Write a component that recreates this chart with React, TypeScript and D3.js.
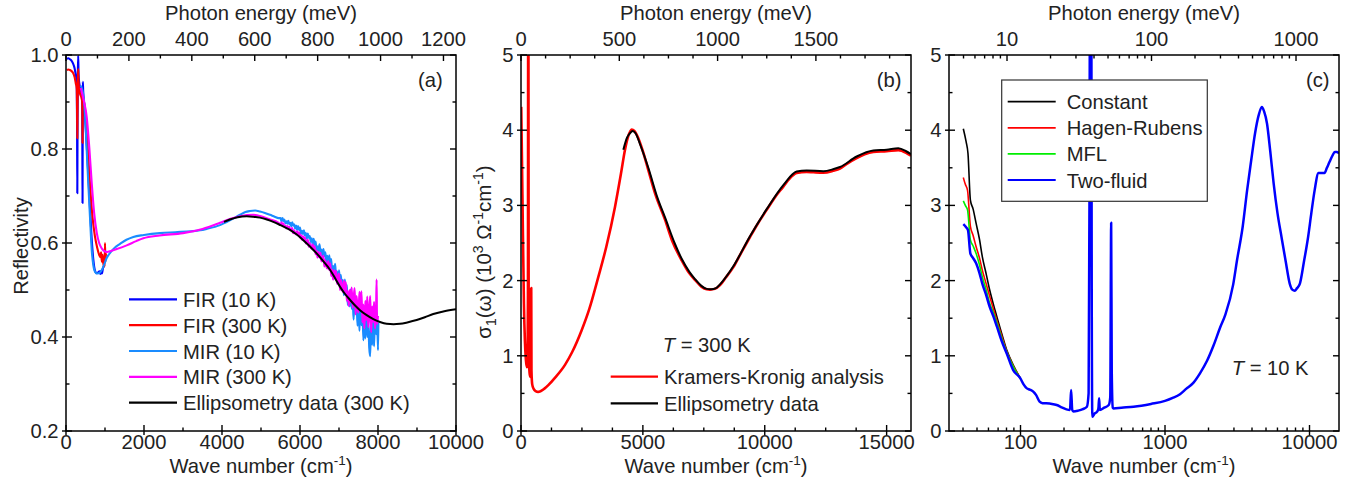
import React from "react";
import * as d3 from "d3";

type Pt = [number, number];

const MEV = 8.06554; // 1 meV in cm^-1

// ---------------- Panel (a): reflectivity ----------------
const firR10K: Pt[] = [
  [20, 0.992], [60, 0.993], [100, 0.991], [140, 0.988], [180, 0.982], [220, 0.972], [250, 0.958], [275, 0.945],
  [284, 0.85], [290, 0.706], [296, 0.86], [305, 0.97], [314, 0.998], [322, 0.96], [340, 0.94], [370, 0.928],
  [400, 0.915], [415, 0.9], [420, 0.78], [424, 0.685], [428, 0.85], [432, 0.943], [440, 0.925], [470, 0.89],
  [510, 0.84], [550, 0.78], [600, 0.7], [650, 0.62], [700, 0.565], [740, 0.542], [780, 0.536], [820, 0.537],
  [860, 0.54], [880, 0.534], [900, 0.541], [920, 0.535], [950, 0.547], [970, 0.55],
];
const firR300K: Pt[] = [
  [20, 0.968], [60, 0.969], [100, 0.968], [140, 0.966], [180, 0.962], [220, 0.953], [250, 0.94], [275, 0.928],
  [284, 0.88], [290, 0.823], [296, 0.88], [305, 0.95], [314, 0.97], [322, 0.945], [340, 0.925], [370, 0.915],
  [400, 0.908], [415, 0.9], [420, 0.86], [424, 0.813], [428, 0.87], [432, 0.913], [440, 0.91], [470, 0.895],
  [510, 0.865], [560, 0.8], [620, 0.72], [680, 0.655], [740, 0.615], [800, 0.59], [850, 0.575], [880, 0.57],
  [900, 0.58], [920, 0.56], [940, 0.575], [960, 0.552], [975, 0.57], [990, 0.55], [1000, 0.6], [1010, 0.56], [1025, 0.578],
];
const mirR10K: Pt[] = [
  [380, 0.935], [420, 0.925], [460, 0.905], [490, 0.87], [530, 0.8], [570, 0.73], [615, 0.655], [660, 0.585],
  [700, 0.553], [750, 0.538], [800, 0.535], [870, 0.537], [950, 0.548], [1043, 0.568], [1150, 0.581], [1250, 0.59],
  [1385, 0.598], [1550, 0.607], [1726, 0.613], [2000, 0.617], [2410, 0.621], [2800, 0.623], [3200, 0.625],
  [3436, 0.627], [3607, 0.63], [3949, 0.638], [4200, 0.648], [4462, 0.66], [4600, 0.666], [4718, 0.668], [4850, 0.669],
  [4974, 0.667], [5100, 0.664], [5231, 0.66], [5350, 0.656], [5450, 0.653],
  [5500, 0.653], [5525, 0.646], [5550, 0.653], [5575, 0.647], [5600, 0.65], [5625, 0.642], [5650, 0.646], [5675, 0.641],
  [5700, 0.647], [5725, 0.64], [5750, 0.643], [5775, 0.636], [5800, 0.644], [5825, 0.637], [5850, 0.64], [5875, 0.631],
  [5900, 0.637], [5925, 0.628], [5950, 0.636], [5975, 0.628], [6000, 0.633], [6025, 0.62], [6050, 0.626], [6075, 0.619],
  [6100, 0.627], [6125, 0.616], [6150, 0.621], [6175, 0.609], [6200, 0.62], [6225, 0.611], [6250, 0.615], [6275, 0.602],
  [6300, 0.61], [6325, 0.596], [6350, 0.609], [6375, 0.596], [6400, 0.603], [6425, 0.584], [6450, 0.593], [6475, 0.583],
  [6500, 0.597], [6525, 0.58], [6550, 0.586], [6575, 0.568], [6600, 0.587], [6625, 0.572], [6650, 0.58], [6675, 0.559],
  [6700, 0.573], [6725, 0.552], [6750, 0.574], [6775, 0.554], [6800, 0.566], [6825, 0.537], [6850, 0.551], [6875, 0.534],
  [6900, 0.556], [6925, 0.53], [6950, 0.54], [6975, 0.514], [7000, 0.542], [7025, 0.52], [7050, 0.532], [7075, 0.5],
  [7100, 0.521], [7125, 0.489], [7150, 0.522], [7175, 0.492], [7200, 0.511], [7225, 0.468], [7250, 0.489], [7275, 0.465],
  [7300, 0.501], [7325, 0.46], [7350, 0.478], [7375, 0.437], [7400, 0.485], [7425, 0.45], [7450, 0.473], [7475, 0.424],
  [7500, 0.465], [7525, 0.413], [7550, 0.473], [7575, 0.425], [7600, 0.461], [7625, 0.393], [7650, 0.435], [7675, 0.397],
  [7700, 0.462], [7725, 0.4], [7750, 0.434], [7775, 0.377], [7800, 0.359], [7825, 0.443], [7850, 0.383], [7875, 0.44],
  [7900, 0.38], [7925, 0.457], [7950, 0.406], [7975, 0.451], [8000, 0.372], [8010, 0.43],
];
const mirR300K: Pt[] = [
  [380, 0.93], [450, 0.905], [530, 0.869], [600, 0.8], [660, 0.727], [720, 0.665], [790, 0.621], [850, 0.6],
  [920, 0.588], [1000, 0.582], [1050, 0.581], [1150, 0.583], [1300, 0.587], [1556, 0.595], [1800, 0.604],
  [1983, 0.61], [2400, 0.616], [3000, 0.621], [3500, 0.63], [3949, 0.643], [4200, 0.651], [4462, 0.657],
  [4803, 0.66], [5000, 0.657], [5200, 0.651], [5450, 0.643],
  [5500, 0.639], [5525, 0.644], [5550, 0.638], [5575, 0.642], [5600, 0.634], [5625, 0.637], [5650, 0.631], [5675, 0.636],
  [5700, 0.631], [5725, 0.635], [5750, 0.627], [5775, 0.629], [5800, 0.632], [5825, 0.621], [5850, 0.627], [5875, 0.621],
  [5900, 0.618], [5925, 0.625], [5950, 0.618], [5975, 0.623], [6000, 0.612], [6025, 0.617], [6050, 0.607], [6075, 0.615],
  [6100, 0.607], [6125, 0.612], [6150, 0.599], [6175, 0.603], [6200, 0.607], [6225, 0.592], [6250, 0.6], [6275, 0.592],
  [6300, 0.588], [6325, 0.597], [6350, 0.586], [6375, 0.593], [6400, 0.576], [6425, 0.584], [6450, 0.569], [6475, 0.581],
  [6500, 0.569], [6525, 0.579], [6550, 0.561], [6575, 0.566], [6600, 0.573], [6625, 0.55], [6650, 0.563], [6675, 0.55],
  [6700, 0.546], [6725, 0.561], [6750, 0.543], [6775, 0.557], [6800, 0.53], [6825, 0.543], [6850, 0.522], [6875, 0.542],
  [6900, 0.524], [6925, 0.541], [6950, 0.513], [6975, 0.523], [7000, 0.535], [7025, 0.5], [7050, 0.521], [7075, 0.504],
  [7100, 0.496], [7125, 0.52], [7150, 0.496], [7175, 0.517], [7200, 0.477], [7225, 0.498], [7250, 0.466], [7275, 0.5],
  [7300, 0.474], [7325, 0.505], [7350, 0.462], [7375, 0.481], [7400, 0.504], [7425, 0.448], [7450, 0.487], [7475, 0.461],
  [7500, 0.452], [7525, 0.496], [7550, 0.457], [7575, 0.497], [7600, 0.431], [7625, 0.469], [7650, 0.418], [7675, 0.477],
  [7700, 0.436], [7725, 0.486], [7750, 0.421], [7775, 0.452], [7800, 0.487], [7825, 0.41], [7850, 0.465], [7875, 0.432],
  [7900, 0.475], [7925, 0.418], [7950, 0.457], [7965, 0.522], [7975, 0.428], [8000, 0.445],
];
const ellipR300K: Pt[] = [
  [4050, 0.645], [4200, 0.65], [4400, 0.655], [4633, 0.657], [4800, 0.656], [4974, 0.654], [5150, 0.65], [5316, 0.645],
  [5500, 0.638], [5744, 0.628], [5900, 0.619], [6085, 0.606], [6250, 0.593], [6427, 0.578], [6600, 0.561], [6769, 0.543],
  [6900, 0.525], [7026, 0.507], [7150, 0.492], [7282, 0.479], [7400, 0.468], [7538, 0.457], [7700, 0.447], [7880, 0.438],
  [8050, 0.432], [8222, 0.428], [8400, 0.427], [8564, 0.428], [8750, 0.431], [8992, 0.436], [9200, 0.442], [9418, 0.449],
  [9700, 0.455], [10000, 0.459],
];
const legendA = ["FIR (10 K)", "FIR (300 K)", "MIR (10 K)", "MIR (300 K)", "Ellipsometry data (300 K)"];
const colorsA = ["#0000ff", "#ff0000", "#1a8cff", "#ff00ff", "#000000"];

// ---------------- Panel (b): sigma1 at 300 K ----------------
const kkSigma300K: Pt[] = [
  [10, 4.31], [40, 3.6], [80, 2.6], [120, 1.7], [160, 1.2], [200, 0.95], [240, 0.85], [270, 0.9], [285, 1.8],
  [295, 5.6], [305, 5.6], [315, 1.5], [330, 0.9], [360, 0.75], [390, 0.72], [410, 0.9], [420, 1.9], [430, 0.8],
  [460, 0.62], [520, 0.56], [600, 0.53], [700, 0.52], [800, 0.528], [950, 0.56], [1121, 0.61], [1400, 0.71],
  [1805, 0.88], [2100, 1.05], [2489, 1.34], [2800, 1.62], [3173, 2.05], [3500, 2.45], [3856, 2.98], [4100, 3.42],
  [4267, 3.74], [4400, 3.92], [4540, 4.01], [4650, 3.99], [4745, 3.94], [5000, 3.72], [5223, 3.47], [5500, 3.16],
  [5908, 2.81], [6200, 2.53], [6592, 2.27], [6900, 2.1], [7138, 2.01], [7400, 1.92], [7617, 1.884], [7754, 1.88],
  [7950, 1.89], [8164, 1.94], [8400, 2.04], [8711, 2.18], [9000, 2.35], [9395, 2.58], [9700, 2.75], [10079, 2.94],
  [10400, 3.1], [10762, 3.25], [11000, 3.35], [11310, 3.43], [11720, 3.445], [12000, 3.44], [12403, 3.435],
  [12800, 3.46], [13087, 3.49], [13400, 3.56], [13772, 3.63], [14100, 3.68], [14454, 3.71], [15003, 3.72],
  [15480, 3.735], [15800, 3.7], [16000, 3.66],
];
const ellipSigma300K: Pt[] = [
  [4198, 3.74], [4350, 3.9], [4500, 3.97], [4580, 3.99], [4700, 3.96], [4900, 3.8], [5223, 3.5], [5600, 3.1],
  [5908, 2.84], [6300, 2.5], [6592, 2.29], [6900, 2.12], [7138, 2.02], [7400, 1.93], [7617, 1.89], [7800, 1.885],
  [8000, 1.9], [8164, 1.95], [8711, 2.19], [9395, 2.59], [10079, 2.95], [10762, 3.27], [11310, 3.45], [11720, 3.465],
  [12403, 3.455], [12800, 3.48], [13087, 3.51], [13772, 3.65], [14454, 3.73], [15003, 3.74], [15480, 3.76],
  [15800, 3.72], [16000, 3.68],
];
const legendB = ["Kramers-Kronig analysis", "Ellipsometry data"];
const colorsB = ["#ff0000", "#000000"];

// ---------------- Panel (c): sigma1 at 10 K, extrapolations ----------------
const constSigma: Pt[] = [
  [40.2, 4.02], [42, 3.85], [43.3, 3.69], [45, 3.07], [47, 2.95], [49.3, 2.76], [52, 2.55], [54.4, 2.32], [58, 2.08],
  [61.2, 1.875], [65, 1.68], [68.6, 1.52], [74, 1.3], [80.3, 1.077], [90, 0.86], [99.8, 0.7],
];
const hrSigma: Pt[] = [
  [40.2, 3.37], [41.5, 3.28], [43, 3.2], [45, 2.72], [47, 2.6], [49.3, 2.45], [52, 2.3], [54.4, 2.14], [58, 1.95],
  [61.2, 1.79], [65, 1.62], [68.6, 1.47], [74, 1.27], [80.3, 1.06], [90, 0.85], [99.8, 0.7],
];
const mflSigma: Pt[] = [
  [40.2, 3.06], [41.5, 3.0], [43, 2.94], [45, 2.54], [47, 2.46], [49.3, 2.36], [52, 2.21], [54.4, 2.05], [58, 1.87],
  [61.2, 1.7], [65, 1.57], [68.6, 1.44], [74, 1.24], [80.3, 1.05], [90, 0.84], [99.8, 0.7],
];
const twoFluidSigma: Pt[] = [
  [40.2, 2.75], [42, 2.71], [43.3, 2.67], [45, 2.36], [47, 2.3], [49.3, 2.23], [52, 2.1], [54.4, 1.96], [58, 1.8],
  [61.2, 1.65], [65, 1.52], [68.6, 1.39], [74, 1.2], [80.3, 1.03], [89, 0.81], [99.8, 0.7], [105, 0.62], [110.6, 0.567],
  [116, 0.55], [122.5, 0.523], [128, 0.48], [135.6, 0.39], [142, 0.37], [150, 0.368], [165, 0.36], [178, 0.345],
  [195, 0.31], [208, 0.288], [220, 0.28], [224, 0.545], [228, 0.28], [232, 0.26], [250, 0.27], [270, 0.29],
  [288, 0.323], [296, 0.5], [300, 3], [304, 8], [308, 8], [311, 2], [314, 0.19], [325, 0.23], [339, 0.257],
  [346, 0.3], [350, 0.435], [354, 0.28], [380, 0.31], [408, 0.345], [418, 0.45], [424, 2.77], [428, 0.8], [435, 0.31],
  [440, 0.3], [500, 0.31], [606, 0.323], [800, 0.36], [1000, 0.4], [1130, 0.44], [1270, 0.49], [1400, 0.56],
  [1570, 0.64], [1750, 0.77], [1950, 0.93], [2170, 1.14], [2400, 1.37], [2620, 1.55], [2965, 1.95], [3150, 2.27],
  [3450, 2.72], [3700, 3.2], [3950, 3.6], [4200, 3.96], [4450, 4.2], [4680, 4.31], [4850, 4.25], [5080, 4.09],
  [5350, 3.72], [5650, 3.29], [6000, 2.9], [6400, 2.58], [6850, 2.25], [7295, 1.96], [7600, 1.88], [7900, 1.866],
  [8200, 1.9], [8580, 1.96], [9150, 2.25], [9780, 2.58], [10300, 2.9], [10850, 3.2], [11550, 3.43], [12100, 3.43],
  [12700, 3.43], [13200, 3.5], [13770, 3.58], [14400, 3.66], [14970, 3.71], [15500, 3.71], [16000, 3.69],
];
const legendC = ["Constant", "Hagen-Rubens", "MFL", "Two-fluid"];
const colorsC = ["#000000", "#ff0000", "#00ee00", "#0000ff"];

// ---------------- Ticks ----------------
const aBottomMajor = [0, 2000, 4000, 6000, 8000, 10000];
const aBottomMinor = [1000, 3000, 5000, 7000, 9000];
const aTopMajor = [0, 200, 400, 600, 800, 1000, 1200];
const aTopMinor = [100, 300, 500, 700, 900, 1100];
const aYMajor = [0.2, 0.4, 0.6, 0.8, 1.0];
const aYMinor = [0.3, 0.5, 0.7, 0.9];

const bBottomMajor = [0, 5000, 10000, 15000];
const bBottomMinor = [1250, 2500, 3750, 6250, 7500, 8750, 11250, 12500, 13750];
const bTopMajor = [0, 500, 1000, 1500];
const bTopMinor = [125, 250, 375, 625, 750, 875, 1125, 1250, 1375, 1625, 1750, 1875];
const sYMajor = [0, 1, 2, 3, 4, 5];
const sYMinor = [0.5, 1.5, 2.5, 3.5, 4.5];

const cBottomMajor = [100, 1000, 10000];
const cBottomMinor = [40, 50, 60, 70, 80, 90, 200, 300, 400, 500, 600, 700, 800, 900, 2000, 3000, 4000, 5000, 6000, 7000, 8000, 9000];
const cTopMajor = [10, 100, 1000];
const cTopMinor = [5, 6, 7, 8, 9, 20, 30, 40, 50, 60, 70, 80, 90, 200, 300, 400, 500, 600, 700, 800, 900];

// ---------------- Layout ----------------
const FONT = "Arial, 'Liberation Sans', Helvetica, sans-serif";
const FS = 20.2;
const TOP = 55;
const BOT = 431;

function path(data: Pt[], x: any, y: any) {
  return (
    d3
      .line<Pt>()
      .x((d) => x(d[0]))
      .y((d) => y(d[1]))
      .curve(d3.curveMonotoneX)(data) || ""
  );
}

function Axes(props: {
  x: any;
  y: any;
  bMaj: number[];
  bMin: number[];
  tMaj: number[];
  tMin: number[];
  yMaj: number[];
  yMin: number[];
  yFmt: (v: number) => string;
}) {
  const { x, y, bMaj, bMin, tMaj, tMin, yMaj, yMin, yFmt } = props;
  const [x0, x1] = x.range();
  const els: any[] = [];
  const st = { stroke: "#000", strokeWidth: 1.4 };
  bMaj.forEach((v, i) => {
    const p = x(v);
    els.push(<line key={"bM" + i} x1={p} x2={p} y1={BOT + 4} y2={BOT - 6} {...st} />);
    els.push(
      <text key={"bL" + i} x={p} y={448.5} textAnchor="middle">
        {String(v)}
      </text>
    );
  });
  bMin.forEach((v, i) => {
    const p = x(v);
    els.push(<line key={"bm" + i} x1={p} x2={p} y1={BOT} y2={BOT - 3.5} {...st} />);
  });
  tMaj.forEach((v, i) => {
    const p = x(v * MEV);
    els.push(<line key={"tM" + i} x1={p} x2={p} y1={TOP} y2={TOP + 6} {...st} />);
    els.push(
      <text key={"tL" + i} x={p} y={46} textAnchor="middle">
        {String(v)}
      </text>
    );
  });
  tMin.forEach((v, i) => {
    const p = x(v * MEV);
    els.push(<line key={"tm" + i} x1={p} x2={p} y1={TOP} y2={TOP + 3.5} {...st} />);
  });
  yMaj.forEach((v, i) => {
    const p = y(v);
    els.push(<line key={"yM" + i} x1={x0 - 4} x2={x0 + 6} y1={p} y2={p} {...st} />);
    els.push(<line key={"yR" + i} x1={x1 - 6} x2={x1} y1={p} y2={p} {...st} />);
    els.push(
      <text key={"yL" + i} x={x0 - 7.5} y={p + 7} textAnchor="end">
        {yFmt(v)}
      </text>
    );
  });
  yMin.forEach((v, i) => {
    const p = y(v);
    els.push(<line key={"ym" + i} x1={x0} x2={x0 + 3.5} y1={p} y2={p} {...st} />);
    els.push(<line key={"yr" + i} x1={x1 - 3.5} x2={x1} y1={p} y2={p} {...st} />);
  });
  return (
    <g>
      {els}
      <rect x={x0} y={TOP} width={x1 - x0} height={BOT - TOP} fill="none" stroke="#000" strokeWidth={1.5} />
      <text x={(x0 + x1) / 2} y={19.5} textAnchor="middle">
        Photon energy (meV)
      </text>
      <text x={(x0 + x1) / 2} y={473} textAnchor="middle">
        Wave number (cm
        <tspan dy={-8} fontSize={13.5}>
          -1
        </tspan>
        <tspan dy={8}>)</tspan>
      </text>
    </g>
  );
}

export default function App() {
  const xa = d3.scaleLinear().domain([0, 10000]).range([66, 456]);
  const ya = d3.scaleLinear().domain([0.2, 1.0]).range([BOT, TOP]);
  const xb = d3.scaleLinear().domain([0, 16000]).range([521, 911]);
  const yb = d3.scaleLinear().domain([0, 5]).range([BOT, TOP]);
  const xc = d3.scaleLog().domain([32, 16000]).range([949, 1339]);
  const yc = d3.scaleLinear().domain([0, 5]).range([BOT, TOP]);

  const seriesA: Pt[][] = [firR10K, firR300K, mirR10K, mirR300K, ellipR300K];
  const seriesB: Pt[][] = [kkSigma300K, ellipSigma300K];
  const seriesC: Pt[][] = [constSigma, hrSigma, mflSigma, twoFluidSigma];

  return (
    <svg
      width={1363}
      height={484}
      style={{ position: "absolute", left: 0, top: 0, background: "#fff" }}
      fontFamily={FONT}
      fontSize={FS}
      fill="#222"
    >
      <defs>
        <clipPath id="clipA">
          <rect x={66} y={TOP} width={390} height={BOT - TOP} />
        </clipPath>
        <clipPath id="clipB">
          <rect x={521} y={TOP} width={390} height={BOT - TOP} />
        </clipPath>
        <clipPath id="clipC">
          <rect x={949} y={TOP} width={390} height={BOT - TOP} />
        </clipPath>
      </defs>
      <rect x={0} y={0} width={1363} height={484} fill="#fff" />

      {/* Panel (a) */}
      <g clipPath="url(#clipA)">
        {seriesA.map((s, i) => (
          <path key={i} d={path(s, xa, ya)} fill="none" stroke={colorsA[i]} strokeWidth={i === 4 ? 2 : 2.1} strokeLinejoin="round" />
        ))}
      </g>
      <Axes x={xa} y={ya} bMaj={aBottomMajor} bMin={aBottomMinor} tMaj={aTopMajor} tMin={aTopMinor} yMaj={aYMajor} yMin={aYMinor} yFmt={(v) => v.toFixed(1)} />
      <text x={418} y={86.5}>(a)</text>
      <text transform="translate(27.5,246) rotate(-90)" textAnchor="middle">
        Reflectivity
      </text>
      {legendA.map((name, i) => {
        const yy = 299.3 + i * 25.85;
        return (
          <g key={i}>
            <line x1={129} x2={177} y1={yy} y2={yy} stroke={colorsA[i]} strokeWidth={2.2} />
            <text x={183} y={yy + 7.5}>{name}</text>
          </g>
        );
      })}

      {/* Panel (b) */}
      <g clipPath="url(#clipB)">
        {seriesB.map((s, i) => (
          <path key={i} d={path(s, xb, yb)} fill="none" stroke={colorsB[i]} strokeWidth={i === 0 ? 2.6 : 2} strokeLinejoin="round" />
        ))}
      </g>
      <Axes x={xb} y={yb} bMaj={bBottomMajor} bMin={bBottomMinor} tMaj={bTopMajor} tMin={bTopMinor} yMaj={sYMajor} yMin={sYMinor} yFmt={(v) => String(v)} />
      <text x={876.7} y={86.5}>(b)</text>
      <text transform="translate(491,252) rotate(-90)" textAnchor="middle" fontSize={20.5}>
        σ
        <tspan dy={5} fontSize={14}>1</tspan>
        <tspan dy={-5}>(ω) (10</tspan>
        <tspan dy={-8} fontSize={14}>3</tspan>
        <tspan dy={8}> Ω</tspan>
        <tspan dy={-8} fontSize={14}>-1</tspan>
        <tspan dy={8}>cm</tspan>
        <tspan dy={-8} fontSize={14}>-1</tspan>
        <tspan dy={8}>)</tspan>
      </text>
      <text x={662.7} y={351.7}>
        <tspan fontStyle="italic">T</tspan> = 300 K
      </text>
      {legendB.map((name, i) => {
        const yy = 376.7 + i * 26.6;
        return (
          <g key={i}>
            <line x1={610.7} x2={658} y1={yy} y2={yy} stroke={colorsB[i]} strokeWidth={2.2} />
            <text x={664} y={yy + 7.5}>{name}</text>
          </g>
        );
      })}

      {/* Panel (c) */}
      <g clipPath="url(#clipC)">
        {seriesC.map((s, i) => (
          <path key={i} d={path(s, xc, yc)} fill="none" stroke={colorsC[i]} strokeWidth={i === 3 ? 2.5 : 1.6} strokeLinejoin="round" />
        ))}
      </g>
      <Axes x={xc} y={yc} bMaj={cBottomMajor} bMin={cBottomMinor} tMaj={cTopMajor} tMin={cTopMinor} yMaj={sYMajor} yMin={sYMinor} yFmt={(v) => String(v)} />
      <text x={1306} y={86.5}>(c)</text>
      <rect x={1001.7} y={80} width={205.6} height={121.3} fill="#fff" stroke="#333" strokeWidth={1.2} />
      {legendC.map((name, i) => {
        const yy = 101.7 + i * 26.1;
        return (
          <g key={i}>
            <line x1={1007.7} x2={1055.7} y1={yy} y2={yy} stroke={colorsC[i]} strokeWidth={1.8} />
            <text x={1066.7} y={yy + 7.5}>{name}</text>
          </g>
        );
      })}
      <text x={1231.7} y={375}>
        <tspan fontStyle="italic">T</tspan> = 10 K
      </text>
    </svg>
  );
}
